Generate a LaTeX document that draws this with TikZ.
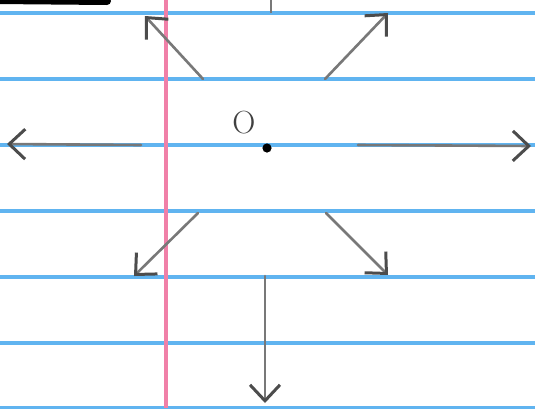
\documentclass[tikz,border=0pt]{standalone}
\usetikzlibrary{arrows.meta}
\definecolor{ruleblue}{RGB}{96,180,240}
\definecolor{marginpink}{RGB}{240,128,168}
\definecolor{pencilgray}{RGB}{120,120,120}

\begin{document}
\begin{tikzpicture}[x=1pt, y=-1pt,
    rule/.style={draw=ruleblue, line width=3.2pt},
    margin/.style={draw=marginpink, line width=4.5pt},
    pencil/.style={draw=pencilgray, line width=2.6pt, line cap=round,
      -{Straight Barb[length=16pt, width=30pt, line width=3pt, color=black!70]}},
    tick/.style={draw=pencilgray, line width=1.8pt}]
  \useasboundingbox (0,0) rectangle (535,408);
  \fill[white] (0,0) rectangle (535,408);

  % ---------------- paper ----------------
  \foreach \y in {13,79,145,211,277,343,408}
    \draw[rule] (0,\y) -- (535,\y);
  \draw[margin] (166,0) -- (166,408);
  \draw[black, line width=8pt, line cap=round] (-4,0) -- (107,1);

  % ---------------- origin ----------------
  \coordinate (O) at (267,148);
  \fill (O) circle (4.6);
  \node[font=\fontsize{32}{32}\selectfont, text=black!75] (lblO) at (244,123) {O};

  % ---------------- rays ----------------
  \coordinate (wS) at (141,145);  \coordinate (wE) at (7,144);
  \coordinate (eS) at (358,145);  \coordinate (eE) at (531,146);
  \coordinate (nwS) at (203,79);  \coordinate (nwE) at (145,16);
  \coordinate (neS) at (325,79);  \coordinate (neE) at (388,13);
  \coordinate (swS) at (198,213); \coordinate (swE) at (134,276);
  \coordinate (seS) at (326,213); \coordinate (seE) at (388,275);
  \coordinate (sS) at (265,276);  \coordinate (sE) at (265,403);
  \coordinate (nS) at (271,13);   \coordinate (nE) at (271,-2);

  \draw[pencil] (wS) -- (wE);
  \draw[pencil] (eS) -- (eE);
  \draw[pencil] (nwS) -- (nwE);
  \draw[pencil] (neS) -- (neE);
  \draw[pencil] (swS) -- (swE);
  \draw[pencil] (seS) -- (seE);
  \draw[pencil] (sS) -- (sE);
  \draw[tick] (nS) -- (nE);
\end{tikzpicture}
\end{document}
